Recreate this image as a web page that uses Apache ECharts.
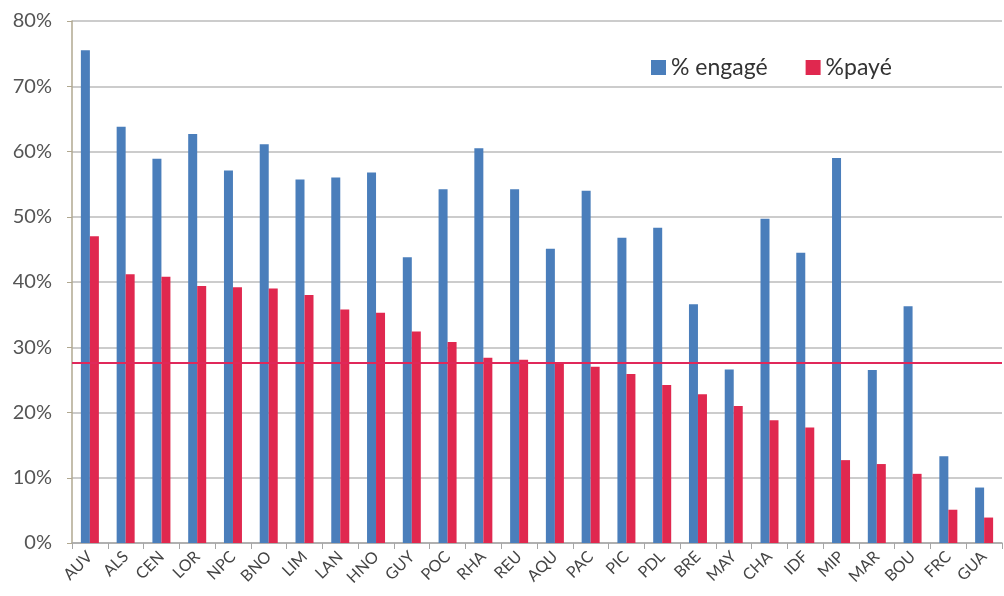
<!DOCTYPE html>
<html>
<head>
<meta charset="utf-8">
<script src="https://cdn.jsdelivr.net/npm/echarts@6/dist/echarts.min.js"></script>
<style>
  html, body { margin: 0; padding: 0; background: #fff; }
  #chart { width: 1004px; height: 596px; }
</style>
</head>
<body>
<div id="chart"></div>
<script>
var regions = ["AUV", "ALS", "CEN", "LOR", "NPC", "BNO", "LIM", "LAN", "HNO", "GUY", "POC", "RHA", "REU",
               "AQU", "PAC", "PIC", "PDL", "BRE", "MAY", "CHA", "IDF", "MIP", "MAR", "BOU", "FRC", "GUA"]
var engage = [75.5, 63.8, 58.9, 62.7, 57.1, 61.1, 55.7, 56.0, 56.8, 43.8, 54.2, 60.5, 54.2,
              45.1, 54.0, 46.8, 48.3, 36.6, 26.6, 49.7, 44.5, 59.0, 26.5, 36.3, 13.3, 8.5]
var paye = [47.0, 41.2, 40.8, 39.4, 39.2, 39.0, 38.0, 35.8, 35.3, 32.4, 30.8, 28.4, 28.1,
            27.5, 27.0, 25.9, 24.2, 22.8, 21.0, 18.8, 17.7, 12.7, 12.1, 10.6, 5.1, 3.9]
var moyennePaye = 27.6
var yTicks = [0, 80, 10]   // min, max, interval

var chart = echarts.init(document.getElementById("chart"))
var fontName = "Lato, 'Open Sans', sans-serif"

var option = {
    animation: false,
    backgroundColor: "#fff",
    grid: { left: 72, right: 2, top: 21, bottom: 53 },
    legend: {
        left: 646,
        top: 51,
        itemWidth: 15,
        itemHeight: 15,
        itemGap: 38,
        icon: "rect",
        textStyle: { fontFamily: fontName, fontSize: 23, color: "#333" },
        data: ["% engagé", "%payé"]
    },
    xAxis: {
        type: "category",
        data: regions,
        axisLine: { lineStyle: { color: "#a6a6a6", width: 1.5 } },
        axisTick: { show: true, alignWithLabel: false, length: 6, lineStyle: { color: "#a6a6a6" } },
        axisLabel: {
            interval: 0,
            rotate: 45,
            margin: 11,
            fontFamily: fontName,
            fontSize: 16,
            color: "#444"
        }
    },
    yAxis: {
        type: "value",
        min: yTicks[0],
        max: yTicks[1],
        interval: yTicks[2],
        axisLine: { show: true, lineStyle: { color: "#b0a890", width: 1.5 } },
        axisTick: { show: true, length: 5, lineStyle: { color: "#b0a890" } },
        axisLabel: {
            formatter: "{value}%",
            fontFamily: fontName,
            fontSize: 20,
            color: "#555",
            margin: 20
        },
        splitLine: { lineStyle: { color: "#cccccc", width: 2 } }
    },
    series: [
        {
            name: "% engagé",
            type: "bar",
            data: engage,
            barWidth: 9,
            barGap: "0%",
            itemStyle: { color: "#4a7ebb" }
        },
        {
            name: "%payé",
            type: "bar",
            data: paye,
            barWidth: 9,
            barGap: "0%",
            itemStyle: { color: "#e0284f" },
            markLine: {
                silent: true,
                symbol: "none",
                label: { show: false },
                lineStyle: { color: "#e0285a", width: 2, type: "solid" },
                data: [{ yAxis: moyennePaye }]
            }
        }
    ]
}
chart.setOption(option)
</script>
</body>
</html>
